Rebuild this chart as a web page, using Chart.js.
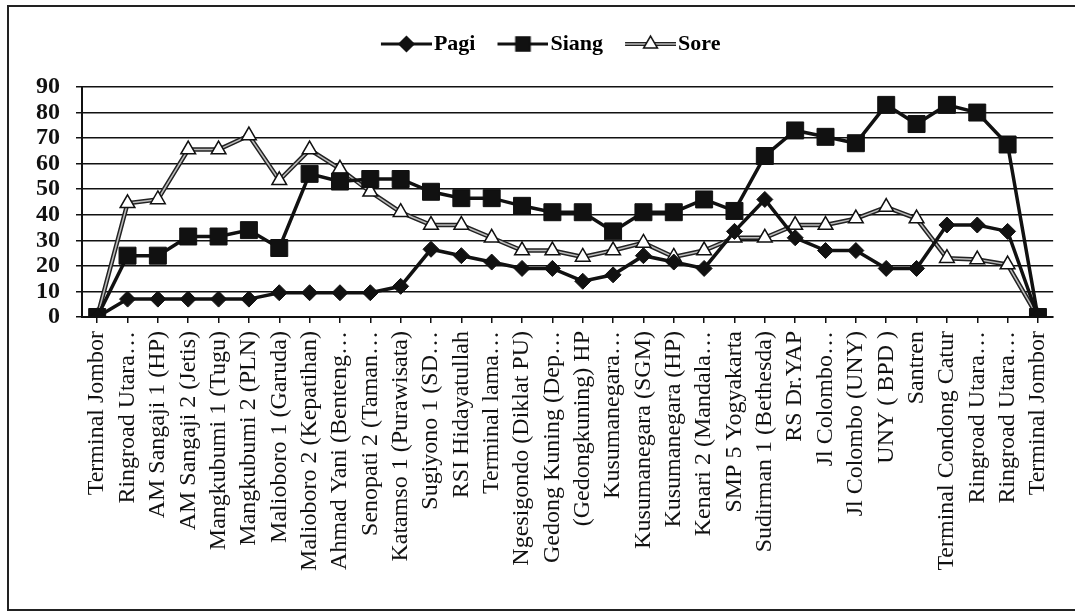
<!DOCTYPE html>
<html>
<head>
<meta charset="utf-8">
<script src="https://cdn.jsdelivr.net/npm/chart.js@4.4.1/dist/chart.umd.min.js"></script>
<style>
  html, body { margin: 0; padding: 0; background: #fff; }
  #wrap { position: relative; width: 1075px; height: 611px; overflow: hidden; }
  #frame { position: absolute; left: 7px; top: 5px; width: 1100px; height: 602px; border: 2px solid #222; pointer-events: none; }
</style>
</head>
<body>
<div id="wrap">
  <canvas id="chart" width="1075" height="611"></canvas>
  <div id="frame"></div>
</div>
<script>
// Halte (stops) along the route
const stops = [
  'Terminal Jombor', 'Ringroad Utara…', 'AM Sangaji 1 (HP)', 'AM Sangaji 2 (Jetis)',
  'Mangkubumi 1 (Tugu)', 'Mangkubumi 2 (PLN)', 'Malioboro 1 (Garuda)', 'Malioboro 2 (Kepatihan)',
  'Ahmad Yani (Benteng…', 'Senopati 2 (Taman…', 'Katamso 1 (Purawisata)', 'Sugiyono 1 (SD…',
  'RSI Hidayatullah', 'Terminal lama…', 'Ngesigondo (Diklat PU)', 'Gedong Kuning (Dep…',
  '(Gedongkuning) HP', 'Kusumanegara…', 'Kusumanegara (SGM)', 'Kusumanegara (HP)',
  'Kenari 2 (Mandala…', 'SMP 5 Yogyakarta', 'Sudirman 1 (Bethesda)', 'RS Dr.YAP',
  'Jl Colombo…', 'Jl Colombo (UNY)', 'UNY ( BPD )', 'Santren',
  'Terminal Condong Catur', 'Ringroad Utara…', 'Ringroad Utara…', 'Terminal Jombor'
];

const pagi  = [0, 7, 7, 7, 7, 7, 9.5, 9.5, 9.5, 9.5, 12, 26.5, 24, 21.5, 19, 19, 14, 16.5, 24, 21.5, 19, 33.5, 46, 31, 26, 26, 19, 19, 36, 36, 33.5, 0];
const siang = [0, 24, 24, 31.5, 31.5, 34, 27, 56, 53, 54, 54, 49, 46.5, 46.5, 43.5, 41, 41, 33.5, 41, 41, 46, 41.5, 63, 73, 70.5, 68, 83, 75.5, 83, 80, 67.5, 0];
const sore  = [0, 44.5, 46, 65.5, 65.5, 71, 53.5, 65.5, 58, 49, 41, 36, 36, 31, 26, 26, 23.5, 26, 29, 23.5, 26, 31, 31, 36, 36, 38.5, 43, 38.5, 23, 22.5, 20.5, 0];

const yTicks = [0, 10, 20, 30, 40, 50, 60, 70, 80, 90];

const INK = '#111';
const SERIF = "'Liberation Serif', 'Times New Roman', serif";

// small picture of line + marker for the legend (line runs from x+2 to x+53 of the item)
function legendImage(pointStyle, radius, fill, drawLine) {
  const c = document.createElement('canvas');
  c.width = 62; c.height = 26;
  const g = c.getContext('2d');
  drawLine(g, 11, 62, c.height / 2);
  g.fillStyle = fill;
  g.strokeStyle = INK;
  g.lineWidth = 1.5;
  Chart.helpers.drawPoint(g, { pointStyle: pointStyle, radius: radius, borderWidth: 1.5 }, 36.5, c.height / 2);
  return c;
}

function solidLine(g, x0, x1, y) {
  g.strokeStyle = INK; g.lineWidth = 3;
  g.beginPath(); g.moveTo(x0, y); g.lineTo(x1, y); g.stroke();
}
function hollowLine(g, x0, x1, y) {
  g.strokeStyle = '#222'; g.lineWidth = 4;
  g.beginPath(); g.moveTo(x0, y); g.lineTo(x1, y); g.stroke();
  g.strokeStyle = '#bbb'; g.lineWidth = 1.5;
  g.beginPath(); g.moveTo(x0, y); g.lineTo(x1, y); g.stroke();
}

const legendPics = [
  legendImage('rectRot', 7.5, INK, solidLine),
  legendImage('rect', 10, INK, solidLine),
  legendImage('triangle', 8, '#fff', hollowLine)
];

// extra room under the legend, and nudge it to the right like the original
const legendTweak = {
  id: 'legendTweak',
  beforeInit(chart) {
    const fit = chart.legend.fit;
    chart.legend.fit = function () {
      fit.call(this);
      this.height += 22;
    };
  },
  afterLayout(chart) {
    chart.legend.left += 40;
  }
};

new Chart(document.getElementById('chart'), {
  type: 'line',
  data: {
    labels: stops,
    datasets: [
      {
        label: 'Pagi',
        data: pagi,
        borderColor: INK,
        borderWidth: 3.5,
        pointStyle: 'rectRot',
        pointRadius: 8,
        pointBackgroundColor: INK,
        pointBorderColor: INK,
        pointBorderWidth: 1,
        tension: 0
      },
      {
        label: 'Siang',
        data: siang,
        borderColor: INK,
        borderWidth: 3.5,
        pointStyle: 'rect',
        pointRadius: 12,
        pointBackgroundColor: INK,
        pointBorderColor: INK,
        pointBorderWidth: 1,
        tension: 0
      },
      {
        label: 'Sore',
        data: sore,
        borderColor: '#bbb',
        borderWidth: 1.5,
        pointStyle: 'triangle',
        pointRadius: 8.5,
        pointBackgroundColor: '#fff',
        pointBorderColor: INK,
        pointBorderWidth: 1.5,
        tension: 0
      },
      {
        // dark edge under the Sore line
        label: 'Sore-edge',
        data: sore,
        borderColor: '#222',
        borderWidth: 4.5,
        pointRadius: 0,
        tension: 0
      }
    ]
  },
  plugins: [legendTweak],
  options: {
    responsive: false,
    animation: false,
    layout: { padding: { top: 13, left: 0, right: 15.7, bottom: 0 } },
    plugins: {
      tooltip: { enabled: false },
      legend: {
        position: 'top',
        labels: {
          usePointStyle: true,
          pointStyleWidth: 44,
          boxHeight: 22,
          padding: 20,
          color: INK,
          font: { family: SERIF, size: 22, weight: 'bold' },
          generateLabels: chart => chart.data.datasets.slice(0, 3).map((ds, i) => ({
            text: ds.label,
            pointStyle: legendPics[i],
            fillStyle: INK,
            strokeStyle: INK,
            lineWidth: 0,
            hidden: false,
            datasetIndex: i
          }))
        }
      }
    },
    scales: {
      x: {
        offset: true,
        grid: { display: true, drawOnChartArea: false, drawTicks: true, tickLength: 6, color: INK, lineWidth: 1.5 },
        border: { display: true, color: INK, width: 2 },
        ticks: {
          autoSkip: false,
          maxRotation: 90,
          minRotation: 90,
          padding: 8,
          color: INK,
          font: { family: SERIF, size: 24 }
        },
        afterFit: s => { s.height = 294; }
      },
      y: {
        min: 0,
        max: 90,
        afterBuildTicks: s => { s.ticks = yTicks.map(v => ({ value: v })); },
        grid: { color: INK, lineWidth: 1.5, tickLength: 6 },
        border: { display: true, color: INK, width: 2 },
        ticks: {
          autoSkip: false,
          padding: 16,
          color: INK,
          font: { family: SERIF, size: 24, weight: 'bold' }
        },
        afterFit: s => { s.width = 82; }
      }
    }
  }
});
</script>
</body>
</html>
